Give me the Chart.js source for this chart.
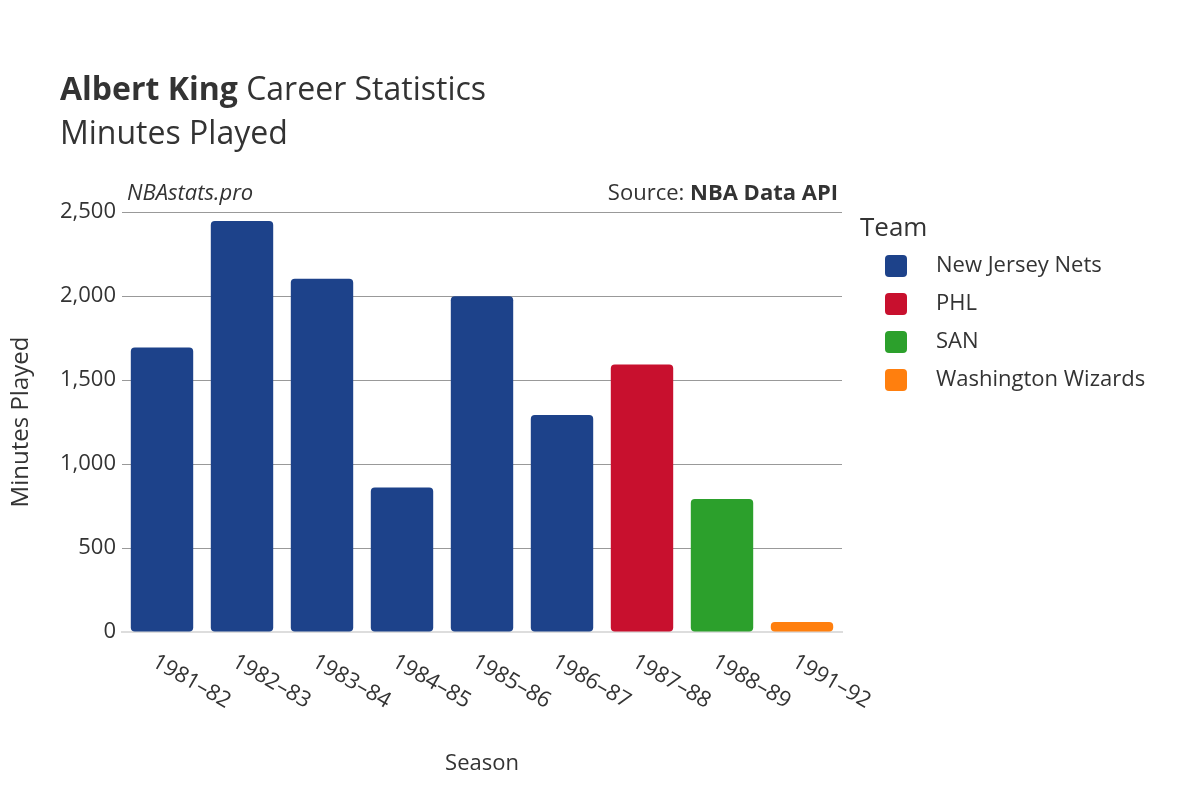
<!DOCTYPE html>
<html><head><meta charset="utf-8">
<script src="https://cdn.jsdelivr.net/npm/chart.js@4"></script>
<style>html,body{margin:0;padding:0;background:#fff}#w{width:1200px;height:800px}</style>
</head><body><div id="w"><canvas id="c"></canvas></div>
<script>
const seasons = ["1981–82","1982–83","1983–84","1984–85","1985–86","1986–87","1987–88","1988–89","1991–92"];
const minutes = [1694,2447,2103,860,1998,1291,1593,791,59];
const teams = ["NJN","NJN","NJN","NJN","NJN","NJN","PHL","SAN","WAS"];
const teamNames = ["New Jersey Nets","PHL","SAN","Washington Wizards"];
const teamKeys = ["NJN","PHL","SAN","WAS"];
const teamColors = ["#1d428a","#c8102e","#2ca02c","#ff7f0e"];
const yTicks = [0,500,1000,1500,2000,2500];
const F = "'Open Sans', 'Noto Sans', sans-serif";

const datasets = teamKeys.map((k,i)=>({
  label: teamNames[i],
  data: minutes.map((v,j)=>teams[j]===k?v:null),
  backgroundColor: teamColors[i],
  borderRadius: 4, borderSkipped: false,
  barPercentage: 0.78, categoryPercentage: 1
}));

const deco = {
  id:'deco',
  afterDraw(ch){
    const c=ch.ctx, a=ch.chartArea, x=ch.scales.x;
    c.save();
    c.fillStyle='#333'; c.textBaseline='alphabetic';
    c.font=`bold 32px ${F}`; c.textAlign='left';
    c.fillText('Albert King',60,100);
    const w=c.measureText('Albert King ').width;
    c.font=`32px ${F}`; c.fillText('Career Statistics',60+w,100);
    c.fillText('Minutes Played',60,144);
    c.font=`italic 22px ${F}`; c.fillText('NBAstats.pro',127,200);
    c.textAlign='right'; c.font=`bold 22px ${F}`;
    c.fillText('NBA Data API',838,200);
    const bw=c.measureText('NBA Data API').width;
    c.font=`22px ${F}`; c.fillText('Source: ',838-bw,200);
    // x tick labels rotated clockwise
    c.font=`22px ${F}`; c.textAlign='left'; c.textBaseline='middle';
    seasons.forEach((s,i)=>{
      const px=x.getPixelForValue(i);
      c.save(); c.translate(px-8,660); c.rotate(Math.PI/6); c.fillText(s,0,0); c.restore();
    });
    c.textAlign='center'; c.textBaseline='alphabetic';
    c.fillText('Season',(a.left+a.right)/2,770);
    c.save(); c.translate(28,(a.top+a.bottom)/2); c.rotate(-Math.PI/2);
    c.font=`24px ${F}`; c.fillText('Minutes Played',0,0); c.restore();
    // legend
    c.textAlign='left'; c.font=`26px ${F}`; c.fillText('Team',860,236);
    c.font=`22px ${F}`; c.textBaseline='middle';
    teamNames.forEach((n,i)=>{
      const y=266+i*38;
      c.fillStyle=teamColors[i];
      c.beginPath(); c.roundRect(885,y-11,22,22,4); c.fill();
      c.fillStyle='#333'; c.fillText(n,936,y);
    });
    c.restore();
  }
};

new Chart(document.getElementById('c'),{
  type:'bar',
  data:{labels:seasons,datasets},
  options:{
    responsive:true, maintainAspectRatio:false, animation:false,
    layout:{padding:{top:212,right:358,bottom:160,left:0}},
    plugins:{legend:{display:false},tooltip:{enabled:false}},
    scales:{
      x:{stacked:true,grid:{display:false},border:{color:'#ddd',width:2},
         ticks:{display:false}},
      y:{stacked:true,min:0,max:2500,
         afterBuildTicks:s=>{s.ticks=yTicks.map(v=>({value:v}));},
         afterFit:s=>{s.width=122;},
         grid:{color:'#999',drawTicks:false},border:{display:false},
         ticks:{color:'#333',font:{family:F,size:22},padding:6}}
    }
  },
  plugins:[deco]
});
</script></body></html>
